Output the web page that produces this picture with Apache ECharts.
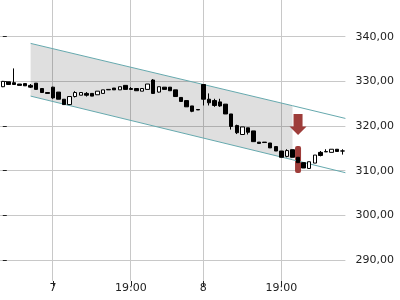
<!DOCTYPE html>
<html><head><meta charset="utf-8">
<script src="https://cdn.jsdelivr.net/npm/echarts@6/dist/echarts.min.js"></script>
<style>html,body{margin:0;padding:0;background:#fff}#c{width:400px;height:300px}</style>
</head><body><div id="c"></div>
<script>
// x tick labels per candle ('' = no label)
const tickLabels = ['', '', '', '', '', '', '', '', '', '7',
  '', '', '', '', '', '', '', '', '', '', '', '', '', '19:00',
  '', '', '', '', '', '', '', '', '', '', '', '', '8',
  '', '', '', '', '', '', '', '', '', '', '', '', '', '19:00',
  '', '', '', '', '', '', '', '', '', '', ''];
const opens  = [328.8,329.9,329.7,329.4,329.5,329.1,329.6,328.4,327.5,328.7,327.6,326.0,324.8,326.6,326.9,327.3,327.3,327.0,327.3,328.1,328.5,328.1,329.1,328.4,328.4,327.8,328.2,330.3,327.6,328.7,328.7,328.1,326.4,325.7,324.5,323.7,329.3,326.0,325.7,325.4,324.9,322.7,320.1,318.1,319.6,318.9,316.4,316.4,316.2,315.4,314.4,313.2,314.7,313.0,311.8,310.5,311.7,314.1,314.2,314.1,314.8,314.4];
const closes = [330.0,329.3,329.3,329.1,329.0,328.7,328.2,327.5,327.3,326.3,326.0,324.8,326.6,327.5,327.5,326.9,326.7,327.8,328.1,328.2,328.1,328.8,328.2,328.2,327.9,328.4,329.4,327.3,328.8,328.2,327.9,326.6,325.5,324.3,323.3,323.6,326.0,325.2,324.6,324.5,322.7,319.9,318.5,319.8,318.6,316.5,316.1,316.3,315.1,314.4,313.0,314.5,313.0,311.8,310.6,312.0,313.5,313.4,314.3,314.8,314.3,314.42];
const lows   = [328.7,329.3,329.2,329.1,329.0,328.5,328.2,327.5,327.3,326.1,326.0,324.8,324.8,326.4,326.9,326.6,326.7,327.0,327.3,328.1,328.1,328.1,328.2,328.2,327.9,327.8,328.2,327.2,327.5,328.2,327.9,326.6,325.5,324.3,323.1,323.6,324.6,324.6,324.3,324.3,322.7,319.2,318.2,318.1,318.1,316.5,316.1,316.3,315.1,314.4,313.0,313.0,313.0,311.8,310.6,310.5,311.7,313.2,314.2,314.1,314.3,313.6];
const highs  = [330.1,329.9,332.9,329.4,329.5,329.4,329.6,328.4,327.5,328.8,327.6,326.0,326.6,327.8,327.5,327.6,327.3,327.8,328.1,328.2,328.5,328.8,329.1,328.7,328.4,328.4,329.4,330.5,328.8,328.7,328.7,328.1,326.4,325.7,324.5,323.7,329.4,327.3,326.1,326.1,324.9,322.7,320.3,319.8,319.6,318.9,316.4,316.4,316.2,315.4,314.4,314.8,314.7,313.0,311.8,312.0,313.5,314.4,314.8,314.8,314.8,314.8];
const lastPrice = 314.42;
const yTicks = [290, 300, 310, 320, 330, 340];
// trend channel (x in candle index units)
const channelX = [5, 52, 61.5];
const channelUpper = [338.5, 324.55, 321.7];
const channelLower = [326.7, 312.45, 309.55];
// signal marker: [candle index, arrow top, arrow head base, arrow tip]
const arrowData = [[53, 322.7, 319.9, 318.0]];
// highlight bar: [candle index, top, bottom]
const barData = [[53, 315.5, 309.5]];

const fmt = v => v.toFixed(2).replace('.', ',');
const ohlc = opens.map((o, i) => [o, closes[i], lows[i], highs[i]]);
const hasLabel = (i, v) => v !== '';
const labelIdx = tickLabels.map((t, i) => t ? [i, 0] : null).filter(Boolean);
const FONT = 'DejaVu Sans';
const RED = '#9e3d3a';
const TEAL = '#66a9ae';
const GRID = '#c8c8c8';
const N = tickLabels.length;
const plotW = 345.4;
const band = plotW / N;
const crisp = v => Math.round(v - 0.5) + 0.5;

const chart = echarts.init(document.getElementById('c'), null, {renderer: 'canvas'});
chart.setOption({
  animation: false,
  backgroundColor: '#fff',
  grid: [
    {left: 0, top: 36.7, width: plotW, height: 223.3},
    {left: band / 2, top: 0, width: plotW - band, height: 281},
    {left: band / 2, top: 0, width: plotW - band, height: 281}
  ],
  xAxis: [
    {type: 'category', gridIndex: 0, data: tickLabels, boundaryGap: true, show: false},
    {type: 'value', gridIndex: 0, min: -0.5, max: N - 0.5, show: false, position: 'top'},
    {type: 'category', gridIndex: 1, data: tickLabels, boundaryGap: false,
      axisLine: {show: false}, axisTick: {show: false}, splitLine: {show: false},
      axisLabel: {interval: hasLabel, margin: 2, color: '#222', fontFamily: FONT, fontSize: 11}},
    {type: 'category', gridIndex: 2, data: tickLabels, boundaryGap: false, offset: 11,
      axisLine: {show: false}, axisLabel: {show: false}, splitLine: {show: false},
      axisTick: {show: true, interval: hasLabel, alignWithLabel: true, length: 5, lineStyle: {color: '#222'}}}
  ],
  yAxis: [
    {type: 'value', gridIndex: 0, position: 'right', min: yTicks[0], max: yTicks[yTicks.length - 1], interval: 10,
      axisLine: {show: false},
      axisTick: {show: true, length: 4, lineStyle: {color: '#222'}},
      axisLabel: {margin: 10, color: '#222', fontFamily: FONT, fontSize: 11, formatter: fmt},
      splitLine: {show: false}},
    {type: 'value', gridIndex: 1, show: false, min: 0, max: 1},
    {type: 'value', gridIndex: 2, show: false}
  ],
  series: [
    // horizontal gridlines
    {type: 'custom', xAxisIndex: 1, yAxisIndex: 0, z: 0, silent: true, clip: false,
      data: yTicks.map(v => [0, v]),
      renderItem: (params, api) => {
        const cs = params.coordSys;
        const y = crisp(api.coord([api.value(0), api.value(1)])[1]);
        return {type: 'line', shape: {x1: cs.x, y1: y, x2: cs.x + cs.width, y2: y}, style: {stroke: GRID, lineWidth: 1, fill: null}};
      }},
    // vertical gridlines
    {type: 'custom', xAxisIndex: 2, yAxisIndex: 1, z: 0, silent: true, clip: false,
      data: labelIdx,
      renderItem: (params, api) => {
        const cs = params.coordSys;
        const x = crisp(api.coord([api.value(0), 0])[0]);
        return {type: 'line', shape: {x1: x, y1: cs.y, x2: x, y2: cs.y + cs.height}, style: {stroke: GRID, lineWidth: 1, fill: null}};
      }},
    {type: 'custom', xAxisIndex: 1, yAxisIndex: 0, z: 1, silent: true,
      data: [[channelX[0], channelUpper[0], channelLower[0], channelX[1], channelUpper[1], channelLower[1]]],
      renderItem: (params, api) => {
        const a = api.coord([api.value(0), api.value(1)]);
        const b = api.coord([api.value(3), api.value(4)]);
        const c = api.coord([api.value(3), api.value(5)]);
        const d = api.coord([api.value(0), api.value(2)]);
        return {type: 'polygon', shape: {points: [a, b, c, d]}, style: {fill: 'rgba(0,0,0,0.125)'}};
      }},
    {type: 'custom', xAxisIndex: 0, yAxisIndex: 0, z: 2, silent: true, data: barData,
      renderItem: (params, api) => {
        const t = api.coord([api.value(0), api.value(1)]);
        const b = api.coord([api.value(0), api.value(2)]);
        return {type: 'rect', shape: {x: t[0] - 3, y: t[1], width: 6, height: b[1] - t[1], r: 2}, style: {fill: RED}};
      }},
    {type: 'line', xAxisIndex: 1, yAxisIndex: 0, z: 3, symbol: 'none', silent: true,
      data: channelX.map((x, i) => [x, channelUpper[i]]), lineStyle: {color: TEAL, width: 1}},
    {type: 'line', xAxisIndex: 1, yAxisIndex: 0, z: 3, symbol: 'none', silent: true,
      data: channelX.map((x, i) => [x, channelLower[i]]), lineStyle: {color: TEAL, width: 1}},
    {type: 'candlestick', xAxisIndex: 0, yAxisIndex: 0, z: 4, barWidth: 4, data: ohlc,
      itemStyle: {color: '#fff', color0: '#000', borderColor: '#000', borderColor0: '#000', borderWidth: 1},
      markLine: {silent: true, symbol: 'none', data: [{yAxis: lastPrice}],
        lineStyle: {opacity: 0},
        label: {position: 'end', distance: 10, formatter: () => fmt(lastPrice), color: '#222', fontFamily: FONT, fontSize: 11}}},
    {type: 'custom', xAxisIndex: 0, yAxisIndex: 0, z: 5, silent: true, data: arrowData,
      renderItem: (params, api) => {
        const top = api.coord([api.value(0), api.value(1)]);
        const base = api.coord([api.value(0), api.value(2)]);
        const tip = api.coord([api.value(0), api.value(3)]);
        const x = tip[0];
        return {type: 'polygon', shape: {points: [
          [x - 4.5, top[1]], [x + 4.5, top[1]], [x + 4.5, base[1]], [x + 8.5, base[1]],
          [x, tip[1]], [x - 8.5, base[1]], [x - 4.5, base[1]]]}, style: {fill: RED}};
      }}
  ]
});
</script></body></html>
